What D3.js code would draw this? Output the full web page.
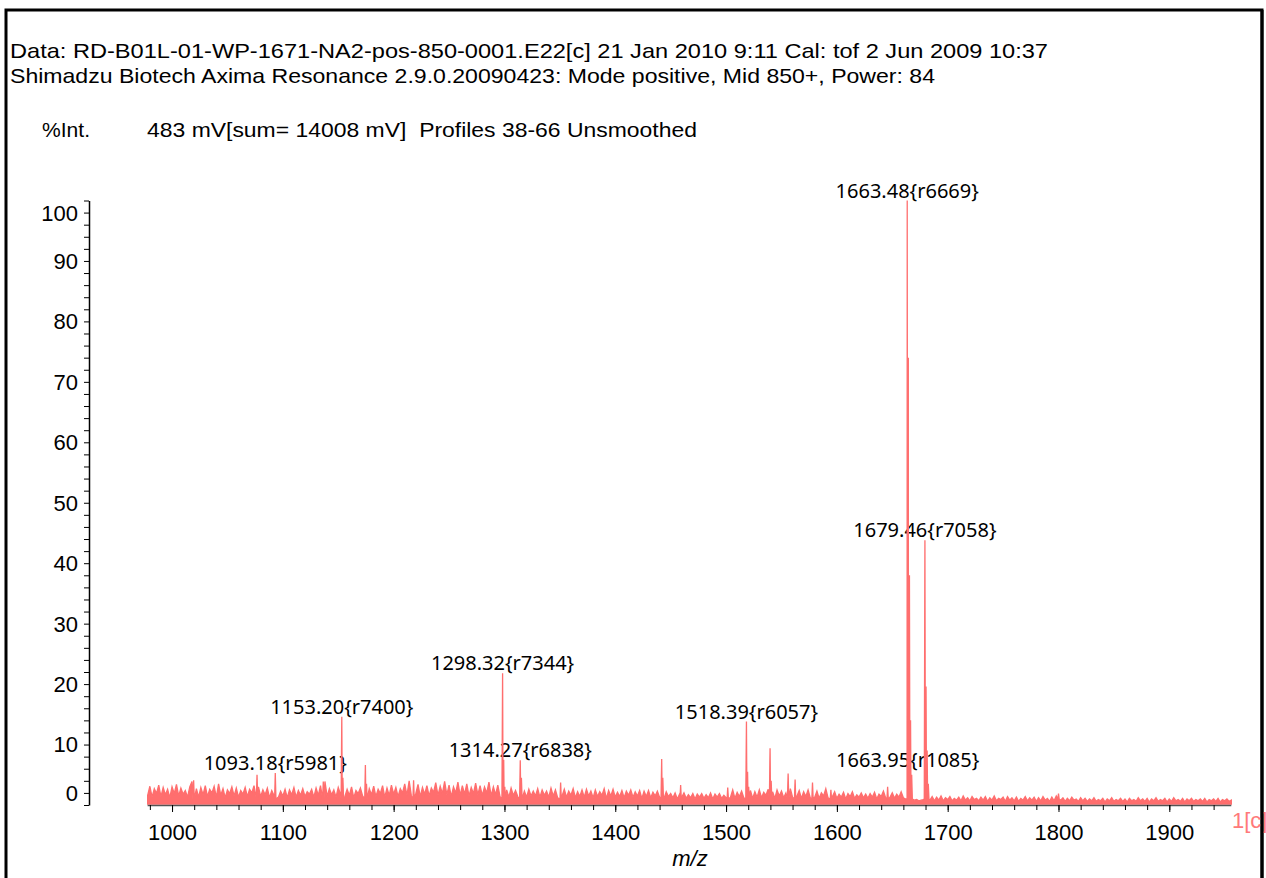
<!DOCTYPE html>
<html>
<head>
<meta charset="utf-8">
<script src="https://cdn.jsdelivr.net/npm/d3@7/dist/d3.min.js"></script>
<style>
  body { margin: 0; background: #fff; }
  svg { display: block; }
</style>
</head>
<body>
<div id="chart"></div>
<script>
var svgWidth = 1266;
var svgHeight = 878;

// header texts
var headerLines = [
  "Data: RD-B01L-01-WP-1671-NA2-pos-850-0001.E22[c] 21 Jan 2010 9:11 Cal: tof 2 Jun 2009 10:37",
  "Shimadzu Biotech Axima Resonance 2.9.0.20090423: Mode positive, Mid 850+, Power: 84"
];
var headerWidths = [1038, 925];
var yTitle = "%Int.";
var infoText = "483 mV[sum= 14008 mV]  Profiles 38-66 Unsmoothed";
var xTitle = "m/z";
var traceName = "1[c]";

// axis ticks
var xTickLabels = [1000, 1100, 1200, 1300, 1400, 1500, 1600, 1700, 1800, 1900];
var yTickLabels = [0, 10, 20, 30, 40, 50, 60, 70, 80, 90, 100];

// labelled peaks
var labelMz  = [1093.18, 1153.20, 1298.32, 1314.27, 1518.39, 1663.48, 1663.95, 1679.46];
var labelRes = ["r5981", "r7400", "r7344", "r6838", "r6057", "r6669", "r1085", "r7058"];
var labelInt = [5.3, 14.6, 21.8, 7.4, 13.8, 100, 5.8, 43.8];

// unlabelled peaks and isotopes
var minorMz  = [1019.5, 1076.7, 1136.5, 1154.2, 1174.5, 1175.5, 1218.0, 1299.32, 1300.3, 1315.3,
                1350.7, 1441.9, 1442.9, 1459.0, 1501.5, 1519.4, 1520.4, 1539.7, 1540.7, 1556.0,
                1562.3, 1578.0, 1594.6, 1645.8, 1664.48, 1665.48, 1666.48, 1667.5, 1680.46, 1681.46,
                1682.5, 1800.0];
var minorInt = [4.1, 5.0, 3.9, 4.5, 6.6, 3.5, 4.1, 7.5, 3.0, 4.5,
                3.7, 7.6, 4.5, 3.3, 2.9, 5.5, 3.0, 9.4, 4.0, 5.2,
                4.2, 3.7, 2.5, 3.0, 74, 38, 14, 5, 19.6, 9,
                3.5, 1.9];

// baseline noise, every 2 m/z from 978
var noiseStart = 978;
var noiseStep = 2;
var noise = [
  1.6,3.1,1.3,2.7,1.9,3.3,1.4,2.9,1.7,2.6,1.2,3.0,1.9,3.4,1.5,2.8,1.8,2.4,1.3,3.0,3.9,1.5,2.7,1.3,2.9,
  1.7,3.2,1.4,2.6,2.0,3.1,1.3,3.5,1.6,2.7,1.2,2.5,1.9,3.0,1.5,2.8,1.3,2.4,1.8,2.9,1.4,2.6,2.0,3.2,1.6,
  3.0,1.4,2.5,1.7,2.8,1.2,2.4,1.6,2.7,1.3,2.3,1.5,2.6,1.2,2.5,1.7,2.9,1.3,2.4,1.6,2.7,1.4,2.2,1.8,2.6,
  1.3,2.8,1.6,3.2,1.5,3.9,1.4,2.7,1.7,2.5,1.3,2.9,1.8,2.5,1.4,2.6,1.6,3.0,1.2,2.4,1.9,2.8,1.5,2.6,1.3,
  2.7,1.7,3.1,1.4,2.6,1.9,3.2,1.3,2.8,1.6,3.3,1.8,2.9,1.4,2.7,2.0,3.5,1.6,4.0,1.5,3.0,1.9,3.4,1.4,2.9,
  1.8,3.2,1.5,2.8,2.1,3.7,1.6,3.1,1.9,3.9,1.7,3.3,1.4,3.0,2.0,3.8,1.6,3.2,1.8,3.5,1.5,2.9,1.9,3.6,1.7,
  3.2,1.6,3.0,2.0,3.8,1.5,3.0,1.7,3.3,1.4,2.7,1.6,2.5,1.3,2.8,1.6,2.4,1.4,2.7,1.7,2.3,1.3,2.6,1.5,2.3,
  1.5,2.7,1.3,2.5,1.6,2.3,1.3,2.8,1.5,2.5,1.2,2.4,1.5,2.6,1.3,2.3,1.6,2.7,1.2,2.2,1.4,2.5,1.3,2.6,1.5,
  2.3,1.2,2.5,1.4,2.2,1.6,2.7,1.1,2.4,1.5,2.6,1.3,2.1,1.4,2.4,1.2,2.3,1.6,2.5,1.3,2.2,1.5,2.4,1.1,2.3,
  1.4,2.4,1.2,2.1,1.5,2.3,1.3,2.0,1.1,2.2,1.4,1.9,1.2,2.0,1.0,1.8,1.3,2.0,1.1,1.7,1.2,1.9,1.0,1.8,1.3,
  1.9,1.1,1.7,1.2,2.0,1.0,1.8,1.3,1.9,1.1,1.6,1.2,2.8,1.3,2.5,1.1,2.1,1.4,2.3,1.2,2.0,1.5,2.4,1.1,2.2,
  1.3,2.5,1.2,2.1,1.6,2.6,1.4,2.2,1.1,2.5,1.5,2.3,1.2,2.0,1.6,2.7,1.3,2.1,1.5,2.4,1.1,2.2,1.4,2.5,1.2,
  2.1,1.3,2.3,1.1,2.0,1.5,2.7,1.2,1.9,1.4,2.2,1.1,1.8,1.3,2.1,1.0,1.9,1.4,2.2,1.1,1.7,1.3,2.0,1.2,1.8,
  1.1,1.9,1.3,2.1,1.0,1.8,1.4,2.3,1.2,3.0,1.3,2.0,1.1,1.8,1.3,2.2,1.2,1.0,0.8,0.9,1.0,0.8,0.9,0.7,0.8,
  0.9,0.7,1.0,0.8,1.4,0.7,1.3,0.8,1.5,0.7,1.2,0.9,1.4,0.7,1.1,0.8,1.3,0.7,1.5,0.8,1.2,0.7,1.4,0.9,1.1,
  0.7,1.3,0.8,1.4,0.6,1.2,0.8,1.5,0.7,1.1,0.9,1.3,0.6,1.4,0.8,1.2,0.7,1.3,0.6,1.1,0.8,1.4,0.7,1.2,0.8,
  1.3,0.6,1.2,0.7,1.4,0.8,1.1,0.6,1.3,0.7,1.5,1.9,0.8,1.2,0.6,1.1,0.7,1.3,0.8,1.0,0.6,1.2,0.7,1.1,0.6,
  1.0,0.7,1.2,0.6,0.9,0.7,1.1,0.5,1.0,0.7,1.2,0.6,0.9,0.7,1.1,0.6,1.0,0.5,1.1,0.7,0.9,0.6,1.2,0.7,1.0,
  0.6,1.1,0.5,1.0,0.7,1.2,0.6,0.9,0.7,1.1,0.5,1.0,0.6,1.2,0.7,0.9,0.6,1.1,0.5,1.0,0.7,1.1,0.6,0.9,0.7,
  1.0,0.6,1.1,0.5,0.9,0.7,1.0,0.6,1.1,0.5,0.9,0.7,1.0,0.6,0.8
];

var lineColor = "#ff6e6e";
var labelFont = "'Noto Sans', 'Open Sans', sans-serif";
var axisFont = "'Liberation Sans', Arial, sans-serif";

var svg = d3.select("#chart")
  .append("svg")
  .attr("width", svgWidth)
  .attr("height", svgHeight);

var x = d3.scaleLinear()
  .domain([977.5, 1955.5])
  .range([147.1, 1230.8]);

var y = d3.scaleLinear()
  .domain([0, 100])
  .range([805, 200.5]);

// frame
svg.append("rect")
  .attr("x", 6)
  .attr("y", 10)
  .attr("width", 1256)
  .attr("height", 900)
  .attr("fill", "none")
  .attr("stroke", "#000")
  .attr("stroke-width", 3);

// header
svg.selectAll(".header")
  .data(headerLines)
  .enter()
  .append("text")
  .attr("class", "header")
  .attr("x", 10)
  .attr("y", (d, i) => 58 + i * 25)
  .attr("textLength", (d, i) => headerWidths[i])
  .attr("lengthAdjust", "spacingAndGlyphs")
  .style("font-family", axisFont)
  .style("font-size", "21px")
  .text(d => d);

svg.append("text")
  .attr("x", 42)
  .attr("y", 137)
  .attr("textLength", 48)
  .attr("lengthAdjust", "spacingAndGlyphs")
  .style("font-family", axisFont)
  .style("font-size", "21px")
  .text(yTitle);

svg.append("text")
  .attr("x", 147)
  .attr("y", 137)
  .attr("textLength", 550)
  .attr("lengthAdjust", "spacingAndGlyphs")
  .style("font-family", axisFont)
  .style("font-size", "21px")
  .style("white-space", "pre")
  .text(infoText);

// peak labels (drawn under the trace)
svg.selectAll(".plab")
  .data(labelMz)
  .enter()
  .append("text")
  .attr("class", "plab")
  .attr("x", d => x(d))
  .attr("y", (d, i) => y(labelInt[i]) - 3)
  .attr("text-anchor", "middle")
  .style("font-family", labelFont)
  .style("font-size", "20px")
  .attr("fill", "#000")
  .text((d, i) => d.toFixed(2) + "{" + labelRes[i] + "}");

// build spectrum points
var peaks = [];
labelMz.forEach((m, i) => peaks.push({ mz: m, int: labelInt[i] }));
minorMz.forEach((m, i) => peaks.push({ mz: m, int: minorInt[i] }));

var points = [];
noise.forEach(function(v, i) {
  var m = noiseStart + i * noiseStep;
  var near = peaks.some(p => Math.abs(p.mz - m) < 1.0);
  if (!near) points.push({ mz: m, int: v });
});
peaks.forEach(function(p) {
  points.push({ mz: p.mz - 0.6, int: 1.0 });
  points.push({ mz: p.mz, int: p.int });
  points.push({ mz: p.mz + 0.6, int: 1.0 });
});
points.sort((a, b) => a.mz - b.mz);

var area = d3.area()
  .x(d => x(d.mz))
  .y0(y(0) - 1)
  .y1(d => y(d.int));

svg.append("path")
  .datum(points)
  .attr("d", area)
  .attr("fill", lineColor)
  .attr("stroke", lineColor)
  .attr("stroke-width", 1.3)
  .attr("stroke-linejoin", "miter");

// x axis
var xMinor = d3.range(980, 1956, 20);
var xAxisMinor = svg.append("g")
  .attr("transform", "translate(0, 805)")
  .call(d3.axisBottom(x).tickValues(xMinor).tickSize(5).tickSizeOuter(0).tickFormat(""));
xAxisMinor.select(".domain").attr("stroke", "#555").attr("stroke-width", 1.5);

var xAxis = svg.append("g")
  .attr("transform", "translate(0, 805)")
  .call(d3.axisBottom(x).tickValues(xTickLabels).tickSize(7).tickSizeOuter(0)
    .tickPadding(12).tickFormat(d3.format("d")));
xAxis.select(".domain").remove();
xAxis.selectAll("text")
  .style("font-family", axisFont)
  .style("font-size", "22px")
  .attr("fill", "#000");

// y axis
var yMinor = d3.range(0, 101, 2);
var yAxisG = svg.append("g")
  .attr("transform", "translate(89, 0)")
  .call(d3.axisLeft(y).tickValues(yMinor).tickSize(5).tickSizeOuter(0).tickFormat(""));
yAxisG.select(".domain").attr("stroke", "#000").attr("stroke-width", 1.5);

svg.selectAll(".ylab")
  .data(yTickLabels)
  .enter()
  .append("text")
  .attr("class", "ylab")
  .attr("x", 78)
  .attr("y", d => y(d === 0 ? 2 : d === 100 ? 98 : d))
  .attr("dy", "0.36em")
  .attr("text-anchor", "end")
  .style("font-family", axisFont)
  .style("font-size", "22px")
  .text(d => d);

// axis title
svg.append("text")
  .attr("x", 690)
  .attr("y", 866)
  .attr("text-anchor", "middle")
  .style("font-family", axisFont)
  .style("font-size", "22px")
  .style("font-style", "italic")
  .text(xTitle);

svg.append("text")
  .attr("x", 1232)
  .attr("y", 828)
  .style("font-family", axisFont)
  .style("font-size", "22px")
  .attr("fill", "#ff7a7a")
  .text(traceName);

// right frame edge drawn over the trace name
svg.append("line")
  .attr("x1", 1262).attr("x2", 1262)
  .attr("y1", 10).attr("y2", 878)
  .attr("stroke", "#000")
  .attr("stroke-width", 3);
</script>
</body>
</html>
